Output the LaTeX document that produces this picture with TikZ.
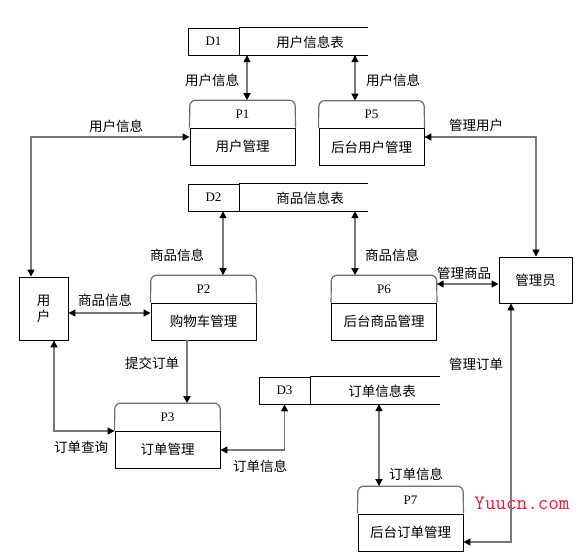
\documentclass[tikz,border=0pt]{standalone}
\usepackage{fontspec}
\setmainfont{Liberation Serif}
\newfontfamily\cjk{Noto Sans CJK SC}
\usetikzlibrary{arrows.meta}
\definecolor{flowgray}{RGB}{120,120,120}
\definecolor{hdrgray}{RGB}{110,110,110}
\definecolor{wmred}{RGB}{250,20,50}
\newcommand\procbox[5]{%
  \node[body] (#1) at (#2,#3) {#5};
  \node[hdr, anchor=south] (#1h) at (#1.north) {#4};
  \draw[hdrline] (#1.north west) -- (#1h.north west) -- (#1h.north east) -- (#1.north east);
}
\begin{document}
\begin{tikzpicture}[x=1pt,y=-1pt,
  >={Triangle[length=7pt,width=7pt,color=black]},
  box/.style={draw=black, line width=0.9pt, inner sep=0pt},
  cjkfont/.style={font=\cjk\fontsize{13.5}{16}\selectfont},
  body/.style={box, cjkfont, minimum width=105pt, minimum height=37pt},
  hdr/.style={inner sep=0pt, minimum width=105pt, minimum height=27pt, font=\fontsize{13}{15}\selectfont},
  hdrline/.style={draw=hdrgray, line width=1.2pt, rounded corners=6pt},
  flow/.style={draw=flowgray, line width=1.5pt},
  dcell/.style={box, minimum width=51pt, minimum height=27pt, font=\fontsize{13}{15}\selectfont},
  dpart/.style={inner sep=0pt, minimum height=27pt},
  lbl/.style={cjkfont, inner sep=0pt},
]
\useasboundingbox (0,0) rectangle (583,558);
\fill[white] (0,0) rectangle (583,558);

% watermark (drawn first, lines pass over it)
\node[text=wmred, inner sep=0pt, font=\ttfamily\fontsize{20.5}{22}\selectfont] (wm) at (522,503) {Yuucn.com};

% data stores
\node[dcell] (d1) at (213.5,41.5) {D1};
\node[dpart, minimum width=128pt, anchor=west] (d1t) at (d1.east) {};
\draw[box] (d1t.north west) -- (d1t.north east) (d1t.south west) -- (d1t.south east);
\node[lbl] at (310,42) {用户信息表};

\node[dcell] (d2) at (213.5,197.5) {D2};
\node[dpart, minimum width=128pt, anchor=west] (d2t) at (d2.east) {};
\draw[box] (d2t.north west) -- (d2t.north east) (d2t.south west) -- (d2t.south east);
\node[lbl] at (310,198) {商品信息表};

\node[dcell] (d3) at (284.5,390.5) {D3};
\node[dpart, minimum width=129pt, anchor=west] (d3t) at (d3.east) {};
\draw[box] (d3t.north west) -- (d3t.north east) (d3t.south west) -- (d3t.south east);
\node[lbl] at (382,391) {订单信息表};

% processes
\procbox{p1}{242.5}{146.5}{P1}{用户管理}
\procbox{p5}{371.5}{147}{P5}{后台用户管理}
\procbox{p2}{203.5}{321.5}{P2}{购物车管理}
\procbox{p6}{384}{321.5}{P6}{后台商品管理}
\procbox{p3}{167.5}{449.5}{P3}{订单管理}
\procbox{p7}{410.5}{532.5}{P7}{后台订单管理}

% external entities
\node[box, cjkfont, minimum width=49pt, minimum height=63pt, align=center] (user) at (43.5,308.5) {用\\户};
\node[box, cjkfont, minimum width=73pt, minimum height=46pt] (admin) at (535.5,280) {管理员};

% flows
\draw[flow,<->] (247,0 |- d1t.south) -- (247,0 |- p1h.north);
\draw[flow,<->] (355,0 |- d1t.south) -- (355,0 |- p5h.north);
\draw[flow,<->] (31,0 |- user.north) -- (31,137) -- (p1.west |- 0,137);
\draw[flow,<->] (p5.east |- 0,137) -- (536,137) -- (536,0 |- admin.north);
\draw[flow,<->] (223,0 |- d2t.south) -- (223,0 |- p2h.north);
\draw[flow,<->] (355,0 |- d2t.south) -- (355,0 |- p6h.north);
\draw[flow,<->] (user.east |- 0,313) -- (p2.west |- 0,313);
\draw[flow,<->] (p6h.east |- 0,284) -- (admin.west |- 0,284);
\draw[flow,->] (187,0 |- p2.south) -- (187,0 |- p3h.north);
\draw[flow,<->] (54,0 |- user.south) -- (54,431) -- (p3.west |- 0,431);
\draw[flow,<->] (p3.east |- 0,450) -| (d3.south);
\draw[flow,<->] (379,0 |- d3t.south) -- (379,0 |- p7h.north);
\draw[flow,<->] (511,0 |- admin.south) -- (511,542) -- (p7.east |- 0,542);

% labels
\node[lbl] at (212,80) {用户信息};
\node[lbl] at (393,80) {用户信息};
\node[lbl] at (116,126) {用户信息};
\node[lbl] at (476,125) {管理用户};
\node[lbl] at (177,255) {商品信息};
\node[lbl] at (392,255) {商品信息};
\node[lbl] at (105,300) {商品信息};
\node[lbl] at (464,273) {管理商品};
\node[lbl] at (152,363) {提交订单};
\node[lbl] at (476,364) {管理订单};
\node[lbl] at (81,447) {订单查询};
\node[lbl] at (260,466) {订单信息};
\node[lbl] at (416,474) {订单信息};
\end{tikzpicture}
\end{document}
